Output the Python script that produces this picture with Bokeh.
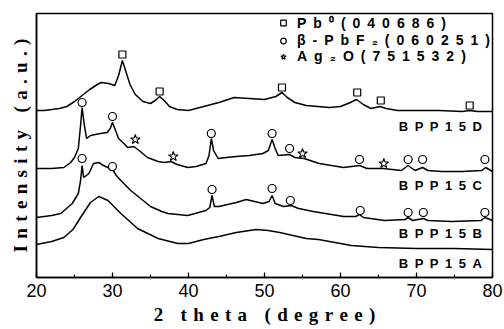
from bokeh.plotting import figure
from bokeh.models import (Range1d, Label, Legend, LegendItem, FixedTicker,
                          SingleIntervalTicker)
from bokeh.embed import file_html
from bokeh.resources import INLINE

# ---------------- data (2 theta in degrees, intensity in a.u.) ----------------
d_theta = [20, 21, 22, 23, 24, 25, 26, 27, 28, 28.5, 29.5, 30.3, 30.8, 31.3, 31.8,
           32.3, 33, 34, 35, 35.6, 36.2, 36.8, 37.5, 38.5, 40, 42, 44, 46, 48, 50,
           51.5, 52.3, 53, 54, 55.5, 57, 58.5, 60, 61.3, 62.1, 63, 64, 65.2, 66,
           67.5, 70, 73, 76, 77, 78, 80]
d_int = [167, 167, 168, 169, 171, 176, 182, 188, 193, 195, 194, 192, 202, 217, 205,
         193, 183, 176, 174, 177, 181, 177, 171, 168, 167, 171, 175, 180, 179, 178,
         181, 185, 180, 175, 172, 171, 170, 171, 175, 178, 173, 169, 171, 169,
         167, 167, 167, 166, 167, 166, 166]

c_theta = [20, 22, 23.6, 24.5, 25, 25.5, 25.8, 26.0, 26.3, 26.6, 27.1, 28.4, 29.3,
           29.7, 30.0, 30.4, 30.8, 31.5, 32, 32.8, 33.5, 34.6, 36, 36.8, 37.7, 38.5,
           39.9, 41, 42.3, 42.7, 43.0, 43.3, 43.9, 45, 46.3, 48, 49.8, 50.5, 51.0,
           51.4, 51.8, 53.3, 54, 55.2, 57.2, 60.4, 62.5, 63.5, 65.6, 68, 68.9, 69.8,
           70.8, 71.5, 73.3, 76, 78.6, 79.1, 80]
c_int = [109, 109, 110, 115, 120, 129, 152, 170, 152, 139, 142, 144, 145,
         149, 155, 147, 139, 134, 130, 131, 127, 120, 116, 115, 116, 113,
         110, 111, 114, 122, 139, 127, 119, 120, 121, 122, 124, 127, 138,
         129, 122, 123, 120, 119, 114, 110, 112, 109, 109, 107, 112, 107,
         110, 107, 106, 106, 107, 110, 106]

b_theta = [20, 22, 23.2, 24.7, 25.5, 25.8, 26.0, 26.2, 26.9, 27.5, 28.2, 28.8, 29.4,
           29.8, 30.1, 30.5, 31.1, 32.4, 33.7, 35.0, 36.5, 37.3, 39.9, 42.3, 42.8,
           43.1, 43.4, 44.0, 46.3, 47.6, 49.8, 50.6, 51.0, 51.4, 52.5, 53.5, 54.5,
           56.4, 58, 60.4, 62.0, 62.5, 63, 65.8, 68.5, 68.9, 69.5, 70.9, 71.5, 74.6,
           78.5, 79.0, 80]
b_int = [60, 62, 64, 74, 84, 97, 112, 100, 104, 114, 115, 112, 110,
         107, 107, 102, 97, 87, 79, 71, 66, 64, 62, 67, 70,
         82, 71, 71, 75, 78, 74, 76, 82, 74, 71, 72, 69,
         66, 64, 61, 61, 63, 60, 57, 58, 60, 57, 59, 57, 56,
         57, 60, 57]

a_theta = [20, 22, 23.6, 24.8, 25.8, 27.1, 28.2, 29.4, 31.1, 33.3, 36, 38.6, 40, 42,
           44, 46.3, 48.9, 50.5, 52, 55.5, 57.1, 60, 61.4, 65, 70, 75, 80]
a_int = [33, 36, 40, 48, 60, 75, 81, 77, 64, 49, 39, 34, 34, 38,
         41, 45, 48, 47, 45, 39, 38, 34, 32, 30, 29, 29, 28]

# peak assignments (marker positions)
pb_theta = [31.3, 36.2, 52.3, 62.2, 65.3, 77.0]
pb_int = [223, 186, 190, 185, 177, 172]
pbf2_theta = [26.0, 30.0, 43.0, 51.0, 53.3, 62.5, 68.9, 70.8, 79.0,
              26.0, 30.0, 43.1, 51.0, 53.4, 62.6, 68.9, 70.9, 79.0]
pbf2_int = [175, 161, 144, 144, 129, 118, 118, 118, 118,
            119, 111, 88, 89, 77, 67, 65, 65, 65]
ag2o_theta = [33.0, 38.0, 55.0, 65.7]
ag2o_int = [138, 121, 124, 114]

samples = ["BPP15A", "BPP15B", "BPP15C", "BPP15D"]
phases = ["Pb\u2070(040686)", "\u03b2-PbF\u2082(060251)", "Ag\u2082O(751532)"]
x_title = "2 theta (degree)"
y_title = "Intensity (a.u.)"


def spaced(s, sep):
    return sep.join(list(s))


EN = "\u2002"
THIRD = "\u2004"

p = figure(width=504, height=329, output_backend="svg", toolbar_location=None,
           x_range=Range1d(20, 80), y_range=Range1d(0, 264),
           min_border_left=36, min_border_right=12, min_border_top=13,
           min_border_bottom=52)
p.background_fill_color = "white"
p.border_fill_color = "white"
p.xgrid.visible = False
p.ygrid.visible = False
p.outline_line_color = "black"
p.outline_line_width = 1.5
p.outline_line_alpha = 1.0

for xs, ys in [(a_theta, a_int), (b_theta, b_int), (c_theta, c_int), (d_theta, d_int)]:
    p.line(xs, ys, line_color="black", line_width=1.5)

r_pb = p.scatter(pb_theta, pb_int, marker="square", size=7, fill_color="white",
                 line_color="black", line_width=1.2)
r_pbf = p.scatter(pbf2_theta, pbf2_int, marker="circle", size=8, fill_color="white",
                  line_color="black", line_width=1.2)
r_ag = p.scatter(ag2o_theta, ag2o_int, marker="star", size=10, fill_color="white",
                 line_color="black", line_width=1.1)

# x axis
xa = p.xaxis[0]
xa.ticker = SingleIntervalTicker(interval=10, num_minor_ticks=2)
xa.major_tick_in = 5
xa.major_tick_out = 0
xa.minor_tick_in = 3
xa.minor_tick_out = 0
xa.major_tick_line_color = "black"
xa.minor_tick_line_color = "black"
xa.major_tick_line_width = 1.2
xa.minor_tick_line_width = 1.2
xa.axis_line_color = "black"
xa.axis_line_width = 1.5
xa.major_label_text_font = "Liberation Sans"
xa.major_label_text_font_size = "18px"
xa.major_label_text_color = "black"
xa.major_label_standoff = 6
xa.axis_label = spaced(x_title, THIRD)
xa.axis_label_text_font = "Liberation Serif"
xa.axis_label_text_font_style = "bold"
xa.axis_label_text_font_size = "19px"
xa.axis_label_text_color = "black"
xa.axis_label_standoff = 4

# y axis
ya = p.yaxis[0]
ya.ticker = FixedTicker(ticks=[])
ya.major_tick_line_color = None
ya.minor_tick_line_color = None
ya.axis_line_color = "black"
ya.axis_line_width = 1.5
ya.axis_label = spaced(y_title, THIRD)
ya.axis_label_text_font = "Liberation Serif"
ya.axis_label_text_font_style = "bold"
ya.axis_label_text_font_size = "19px"
ya.axis_label_text_color = "black"
ya.axis_label_standoff = 6
ya.major_label_standoff = 0

# sample labels
label_y = [14, 44, 92, 151]
for name, yy in zip(samples, label_y):
    p.add_layout(Label(x=78.6, y=yy, text=spaced(name, EN), text_align="right",
                       text_baseline="middle", text_font="Liberation Sans",
                       text_font_style="bold", text_font_size="13px",
                       text_color="black"))

legend = Legend(items=[LegendItem(label=spaced(phases[0], EN), renderers=[r_pb]),
                       LegendItem(label=spaced(phases[1], EN), renderers=[r_pbf]),
                       LegendItem(label=spaced(phases[2], EN), renderers=[r_ag])],
                location=(240, 213), orientation="vertical",
                border_line_color=None, background_fill_alpha=0,
                padding=0, margin=0, spacing=0,
                glyph_height=15, glyph_width=14, label_height=15,
                label_standoff=7, label_text_font="Liberation Sans",
                label_text_font_style="bold", label_text_font_size="14px",
                label_text_color="black")
p.add_layout(legend)

open("out.html", "w").write(file_html(p, INLINE))
